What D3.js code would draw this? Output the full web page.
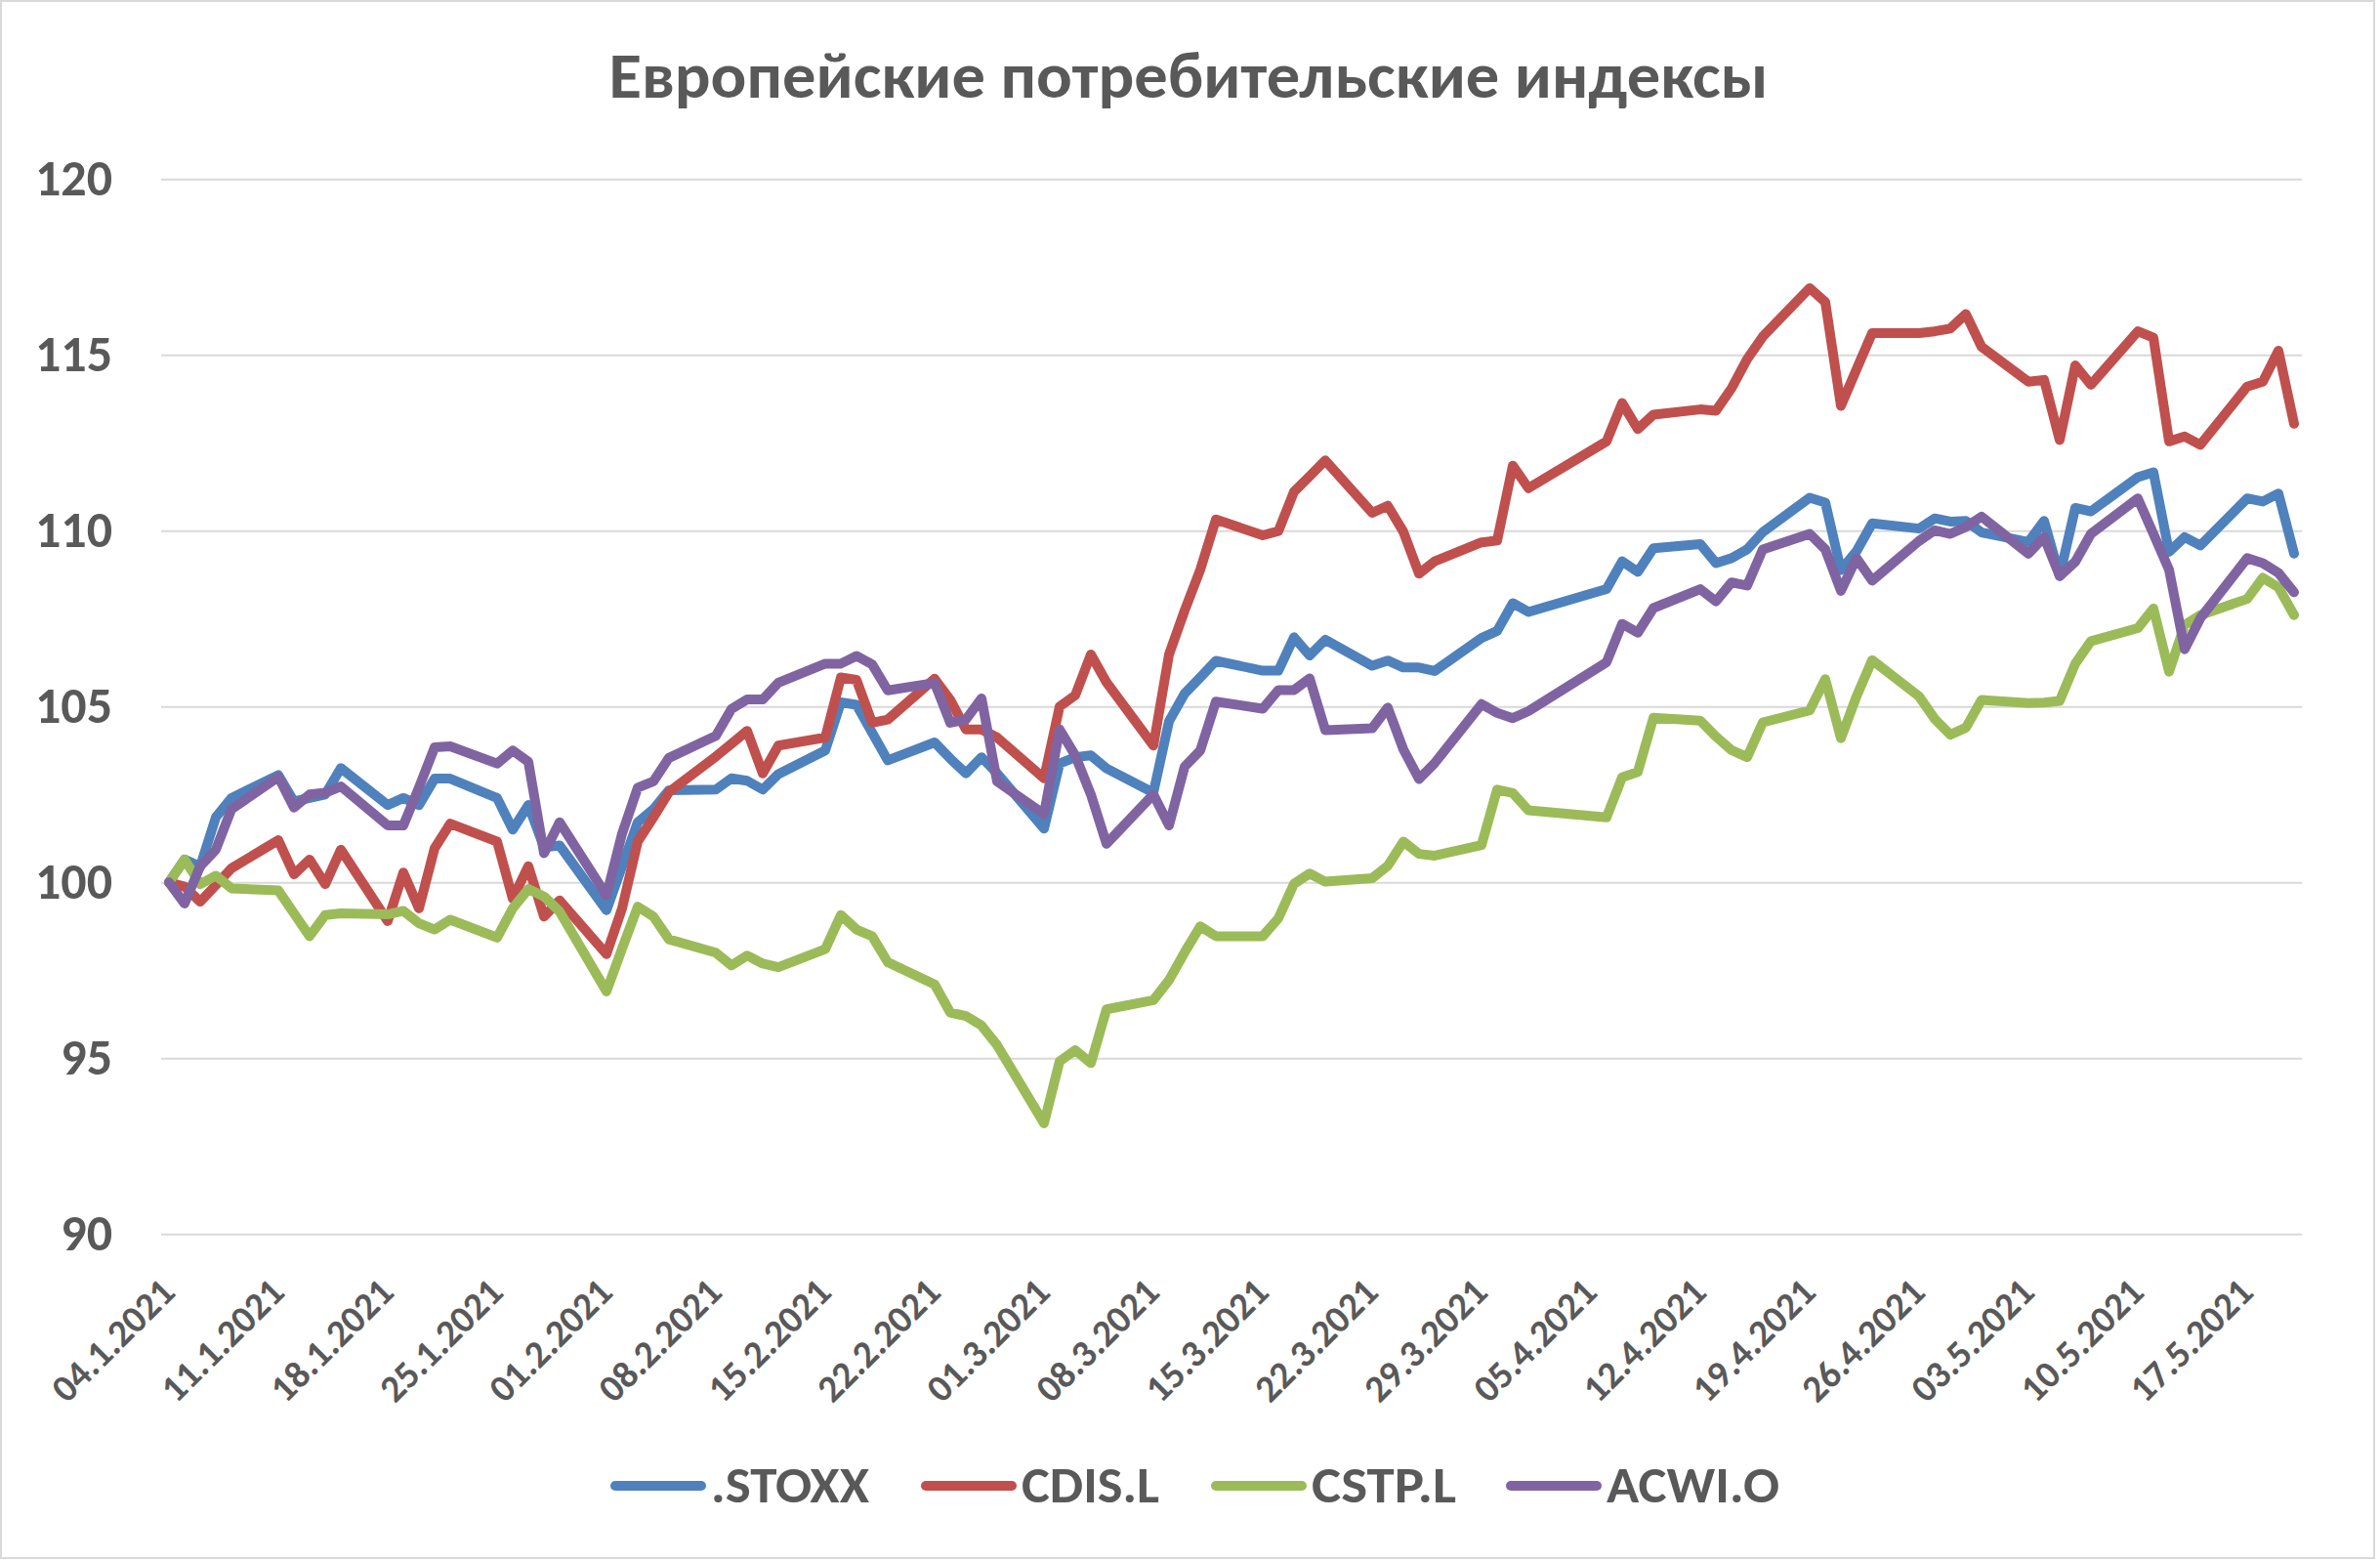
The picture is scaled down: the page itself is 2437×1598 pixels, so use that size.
<!DOCTYPE html>
<html><head><meta charset="utf-8">
<script src="https://cdn.jsdelivr.net/npm/d3@7"></script>
<style>html,body{margin:0;padding:0;background:#fff;} svg{display:block;}</style>
</head><body>
<svg id="chart" width="2437" height="1598"></svg>
<script>
const chartTitle = "Европейские потребительские индексы";
const seriesNames = [".STOXX", "CDIS.L", "CSTP.L", "ACWI.O"];
const seriesColors = ["#4F81BD", "#C0504D", "#9BBB59", "#8064A2"];

const dates = [
 "2021-01-04","2021-01-05","2021-01-06","2021-01-07","2021-01-08",
 "2021-01-11","2021-01-12","2021-01-13","2021-01-14","2021-01-15",
 "2021-01-18","2021-01-19","2021-01-20","2021-01-21","2021-01-22",
 "2021-01-25","2021-01-26","2021-01-27","2021-01-28","2021-01-29",
 "2021-02-01","2021-02-02","2021-02-03","2021-02-04","2021-02-05",
 "2021-02-08","2021-02-09","2021-02-10","2021-02-11","2021-02-12",
 "2021-02-15","2021-02-16","2021-02-17","2021-02-18","2021-02-19",
 "2021-02-22","2021-02-23","2021-02-24","2021-02-25","2021-02-26",
 "2021-03-01","2021-03-02","2021-03-03","2021-03-04","2021-03-05",
 "2021-03-08","2021-03-09","2021-03-10","2021-03-11","2021-03-12",
 "2021-03-15","2021-03-16","2021-03-17","2021-03-18","2021-03-19",
 "2021-03-22","2021-03-23","2021-03-24","2021-03-25","2021-03-26",
 "2021-03-29","2021-03-30","2021-03-31","2021-04-01",
 "2021-04-06","2021-04-07","2021-04-08","2021-04-09",
 "2021-04-12","2021-04-13","2021-04-14","2021-04-15","2021-04-16",
 "2021-04-19","2021-04-20","2021-04-21","2021-04-22","2021-04-23",
 "2021-04-26","2021-04-27","2021-04-28","2021-04-29","2021-04-30",
 "2021-05-03","2021-05-04","2021-05-05","2021-05-06","2021-05-07",
 "2021-05-10","2021-05-11","2021-05-12","2021-05-13","2021-05-14",
 "2021-05-17","2021-05-18","2021-05-19","2021-05-20"
];

const stoxx = [
 100, 100.65, 100.45, 101.85, 102.4,
 103.05, 102.3, 102.4, 102.5, 103.25,
 102.2, 102.4, 102.2, 102.95, 102.95,
 102.4, 101.5, 102.2, 101.0, 101.05,
 99.21, 100.46, 101.71, 102.08, 102.62,
 102.64, 102.96, 102.89, 102.64, 103.08,
 103.75, 105.12, 105.05, 104.26, 103.47,
 103.98, 103.52, 103.1, 103.56, 103.1,
 101.53, 103.38, 103.56, 103.61, 103.24,
 102.55, 104.58, 105.37, 105.83, 106.3,
 106.02, 106.02, 106.97, 106.45, 106.9,
 106.16, 106.31, 106.11, 106.11, 106.01,
 106.95, 107.15, 107.94, 107.69,
 108.34, 109.13, 108.83, 109.5,
 109.62, 109.08, 109.22, 109.47, 109.96,
 110.94, 110.8, 108.88, 109.42, 110.21,
 110.06, 110.35, 110.26, 110.28, 109.95,
 109.68, 110.28, 108.71, 110.65, 110.55,
 111.52, 111.66, 109.4, 109.82, 109.58,
 110.92, 110.83, 111.06, 109.35
];

const cdis = [
 100, 99.88, 99.45, 99.92, 100.4,
 101.2, 100.23, 100.65, 99.95, 100.93,
 98.9, 100.28, 99.26, 100.97, 101.67,
 101.16, 99.54, 100.46, 99.03, 99.49,
 97.96, 99.26, 101.16, 101.85, 102.57,
 103.58, 103.94, 104.31, 103.1, 103.89,
 104.12, 105.83, 105.76, 104.54, 104.63,
 105.79, 105.19, 104.35, 104.35, 104.12,
 102.96, 105.0, 105.32, 106.48, 105.69,
 103.89, 106.48, 107.73, 108.89, 110.32,
 109.87, 109.99, 111.11, 111.55, 112.0,
 110.51, 110.71, 109.97, 108.78, 109.13,
 109.67, 109.72, 111.85, 111.21,
 112.54, 113.63, 112.89, 113.3,
 113.45, 113.41, 114.05, 114.88, 115.52,
 116.9, 116.5, 113.55, 114.59, 115.62,
 115.62, 115.67, 115.75, 116.16, 115.23,
 114.24, 114.29, 112.58, 114.7, 114.15,
 115.67, 115.49, 112.54, 112.68, 112.44,
 114.1, 114.24, 115.12, 113.04
];

const cstp = [
 100, 100.65, 99.95, 100.19, 99.83,
 99.77, 99.12, 98.47, 99.07, 99.12,
 99.09, 99.19, 98.84, 98.66, 98.94,
 98.43, 99.26, 99.81, 99.6, 99.17,
 96.9, 98.12, 99.31, 99.03, 98.38,
 98.0, 97.64, 97.92, 97.69, 97.59,
 98.1, 99.07, 98.66, 98.47, 97.73,
 97.1, 96.3, 96.2, 95.93, 95.37,
 93.15, 94.91, 95.23, 94.86, 96.39,
 96.65, 97.22, 98.01, 98.75, 98.47,
 98.47, 98.98, 99.96, 100.25, 100.02,
 100.12, 100.47, 101.16, 100.81, 100.76,
 101.06, 102.64, 102.54, 102.05,
 101.85, 102.99, 103.14, 104.68,
 104.6, 104.15, 103.76, 103.56, 104.55,
 104.89, 105.78, 104.1, 105.29, 106.32,
 105.29, 104.65, 104.2, 104.4, 105.19,
 105.1, 105.11, 105.16, 106.22, 106.86,
 107.23, 107.79, 105.99, 107.32, 107.6,
 108.06, 108.66, 108.39, 107.6
];

const acwi = [
 100, 99.4, 100.46, 100.93, 102.08,
 103.0, 102.13, 102.5, 102.55, 102.73,
 101.62, 101.62, 102.7, 103.84, 103.87,
 103.38, 103.75, 103.43, 100.83, 101.71,
 99.63, 101.39, 102.69, 102.87, 103.54,
 104.17, 104.93, 105.2, 105.2, 105.68,
 106.22, 106.22, 106.44, 106.2, 105.46,
 105.67, 104.54, 104.63, 105.23, 102.87,
 101.94, 104.35, 103.61, 102.5, 101.1,
 102.5, 101.62, 103.29, 103.75, 105.14,
 104.94, 105.47, 105.47, 105.8, 104.33,
 104.38, 104.97, 103.78, 102.94, 103.39,
 105.07, 104.82, 104.67, 104.87,
 106.26, 107.35, 107.1, 107.8,
 108.34, 107.99, 108.53, 108.44, 109.47,
 109.91, 109.47, 108.29, 109.22, 108.58,
 109.71, 110.01, 109.91, 110.11, 110.4,
 109.35, 109.82, 108.71, 109.12, 109.91,
 110.92, 109.91, 108.89, 106.63, 107.51,
 109.22, 109.08, 108.8, 108.25
];

const yTicks = [90, 95, 100, 105, 110, 115, 120];
const xTickDates = [
 "2021-01-04","2021-01-11","2021-01-18","2021-01-25","2021-02-01","2021-02-08",
 "2021-02-15","2021-02-22","2021-03-01","2021-03-08","2021-03-15","2021-03-22",
 "2021-03-29","2021-04-05","2021-04-12","2021-04-19","2021-04-26","2021-05-03",
 "2021-05-10","2021-05-17"
];

const FONT = "Carlito, Calibri, 'Open Sans', 'Noto Sans', sans-serif";
const TEXT = "#595959";
const GRID = "#D9D9D9";
const W = 2437, H = 1598;
const plot = {left: 165, right: 2357, top: 183.3, bottom: 1263.3};

const svg = d3.select("#chart");
svg.append("rect").attr("x", 1).attr("y", 1).attr("width", W - 7).attr("height", H - 4)
  .attr("fill", "#fff").attr("stroke", GRID).attr("stroke-width", 2);

const parse = d3.utcParse("%Y-%m-%d");
const dayMs = 864e5;
const dd = dates.map(parse);
const x = d3.scaleUtc()
  .domain([new Date(+dd[0] - dayMs / 2), new Date(+dd[dd.length - 1] + dayMs / 2)])
  .range([plot.left, plot.right]);
const y = d3.scaleLinear().domain([90, 120]).range([plot.bottom, plot.top]);

// Y axis with gridlines
const yAxis = svg.append("g").attr("transform", `translate(${plot.left},0)`)
  .call(d3.axisLeft(y).tickValues(yTicks).tickSize(-(plot.right - plot.left)).tickPadding(50).tickFormat(d3.format("d")));
yAxis.select(".domain").remove();
yAxis.selectAll(".tick line").attr("stroke", GRID).attr("stroke-width", 2);
yAxis.selectAll(".tick text").attr("font-family", FONT).attr("font-size", 52)
  .attr("font-weight", "bold").attr("fill", TEXT);

// X axis
const fmt = d3.utcFormat("%d.%-m.%Y");
const xAxis = svg.append("g").attr("transform", `translate(0,${plot.bottom})`)
  .call(d3.axisBottom(x).tickValues(xTickDates.map(parse)).tickSize(0).tickFormat(fmt));
xAxis.select(".domain").remove();
xAxis.selectAll(".tick text")
  .attr("font-family", FONT).attr("font-size", 39).attr("font-weight", "bold").attr("fill", TEXT)
  .attr("x", 0).attr("y", 0).attr("dy", "0.35em")
  .attr("text-anchor", "end")
  .attr("transform", "translate(-2,52) rotate(-45)");

// Lines
const allSeries = [stoxx, cdis, cstp, acwi];
const line = d3.line().x(d => x(d.date)).y(d => y(d.v));
svg.append("g").selectAll("path")
  .data(allSeries.map((vals, i) => ({name: seriesNames[i], color: seriesColors[i],
      pts: vals.map((v, j) => ({date: dd[j], v}))})))
  .join("path")
  .attr("d", s => line(s.pts))
  .attr("fill", "none")
  .attr("stroke", s => s.color)
  .attr("stroke-width", 10)
  .attr("stroke-linejoin", "round")
  .attr("stroke-linecap", "round");

// Title
svg.append("text").attr("x", 1217).attr("y", 100).attr("text-anchor", "middle")
  .attr("font-family", FONT).attr("font-size", 66).attr("font-weight", "bold").attr("fill", TEXT)
  .attr("textLength", 1187).attr("lengthAdjust", "spacingAndGlyphs")
  .text(chartTitle);

// Legend
const legendX = [626, 944, 1241, 1543];
const legendTextW = [162, 141, 148, 177];
const lg = svg.append("g").selectAll("g").data(seriesNames).join("g")
  .attr("transform", (d, i) => `translate(${legendX[i]},1521)`);
lg.append("line").attr("x1", 4).attr("x2", 92).attr("y1", 0).attr("y2", 0)
  .attr("stroke", (d, i) => seriesColors[i]).attr("stroke-width", 10).attr("stroke-linecap", "round");
lg.append("text").attr("x", 102).attr("y", 17)
  .attr("font-family", FONT).attr("font-size", 52).attr("font-weight", "bold").attr("fill", TEXT)
  .attr("textLength", (d, i) => legendTextW[i]).attr("lengthAdjust", "spacingAndGlyphs")
  .text(d => d);
</script>
</body></html>
